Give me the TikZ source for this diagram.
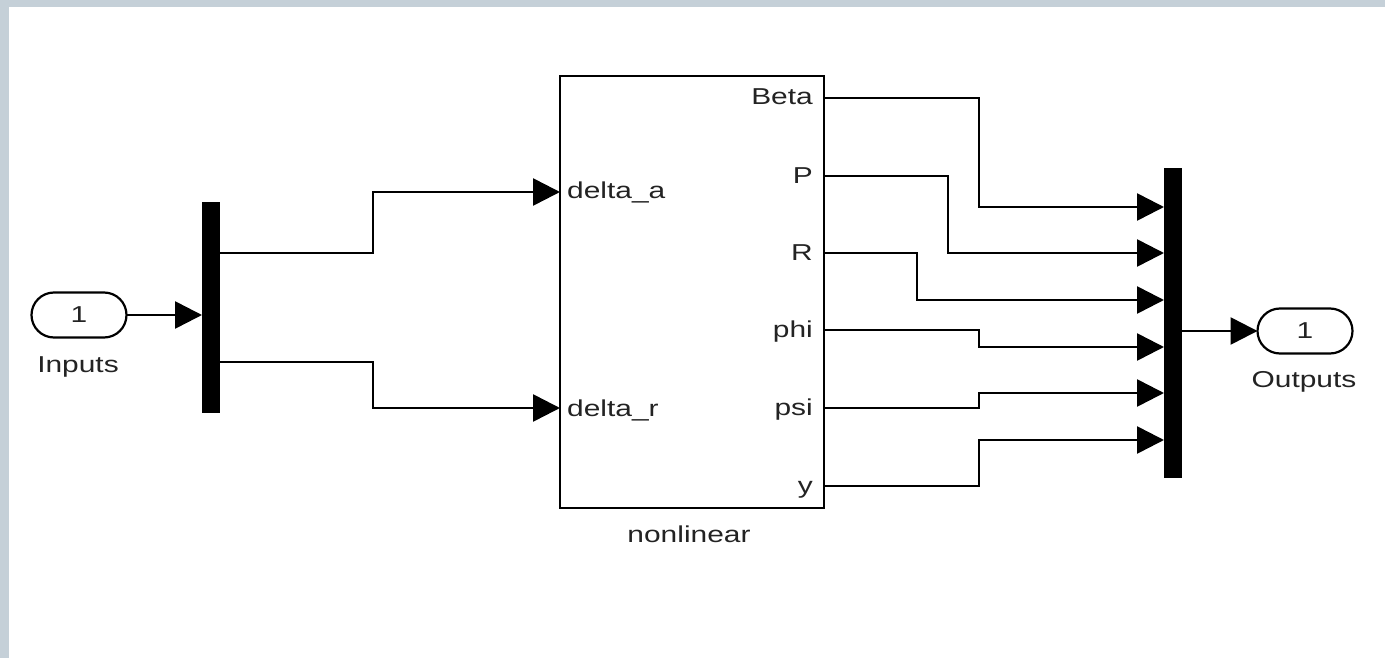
\documentclass[tikz,border=0pt]{standalone}
\usepackage{fontspec}
\setmainfont{Liberation Sans}[FakeStretch=1.3]
\usetikzlibrary{arrows.meta,shapes.misc,calc}
\definecolor{frame}{RGB}{197,208,216}
\definecolor{txt}{RGB}{35,35,35}
\begin{document}
\begin{tikzpicture}[x=1pt,y=-1pt,
  wire/.style={line width=2.6pt,draw=black},
  arr/.style={wire,-{Triangle[length=27pt,width=27pt]}},
  bar/.style={rectangle,fill=black,draw=none,inner sep=0,outer sep=0,minimum width=18pt},
  port/.style={rounded rectangle,draw,line width=2.2pt,inner sep=0,outer sep=0,minimum height=45pt,minimum width=95pt,font=\fontsize{23}{27}\selectfont,text=txt},
  lbl/.style={inner sep=0,font=\fontsize{23}{27}\selectfont,text=txt},
  blockbox/.style={rectangle,draw,line width=2.6pt,inner sep=0,outer sep=0}]
\useasboundingbox (0,0) rectangle (1385,658);
\fill[white] (0,0) rectangle (1385,658);
\fill[frame] (0,0) rectangle (9,658);
\fill[frame] (0,0) rectangle (1385,7);

% blocks
\node[port] (in) at (79,315) {1};
\node[lbl,anchor=base] (inlbl) at (78,372) {Inputs};
\node[bar,minimum height=211pt] (demux) at (211,307.5) {};
\node[blockbox,minimum width=264pt,minimum height=432pt] (sys) at (692,292) {};
\node[lbl,anchor=base] (syslbl) at (689,542) {nonlinear};
\node[bar,minimum height=310pt] (mux) at (1173,323) {};
\node[port] (out) at (1305,331) {1};
\node[lbl,anchor=base] (outlbl) at (1304,387) {Outputs};

% ports
\coordinate (ia) at (sys.west |- 0,192);
\coordinate (ir) at (sys.west |- 0,408);
\foreach \n/\y in {1/98,2/176,3/253,4/330,5/408,6/486}{\coordinate (o\n) at (sys.east |- 0,\y);}
\foreach \n/\y in {1/207,2/253,3/300,4/347,5/393,6/440}{\coordinate (m\n) at (mux.west |- 0,\y);}
\coordinate (d1) at (demux.east |- 0,253);
\coordinate (d2) at (demux.east |- 0,362);

% port labels
\node[lbl,anchor=base west] (la) at (567,198) {delta\_a};
\node[lbl,anchor=base west] (lr) at (567,416) {delta\_r};
\foreach \n/\t in {1/Beta,2/P,3/R,4/phi,5/psi,6/y}{\node[lbl,anchor=base east] (lo\n) at ($(o\n)+(-11,7)$) {\t};}

% connectors
\draw[arr] (in.east) -- (demux.west |- in.east);
\draw[arr] (d1) -- (373,253) |- (ia);
\draw[arr] (d2) -- (373,362) |- (ir);
\draw[arr] (o1) -- (979,98) |- (m1);
\draw[arr] (o2) -- (948,176) |- (m2);
\draw[arr] (o3) -- (917,253) |- (m3);
\draw[arr] (o4) -- (979,330) |- (m4);
\draw[arr] (o5) -- (979,408) |- (m5);
\draw[arr] (o6) -- (979,486) |- (m6);
\draw[arr] (mux.east |- out.west) -- (out.west);
\end{tikzpicture}
\end{document}
